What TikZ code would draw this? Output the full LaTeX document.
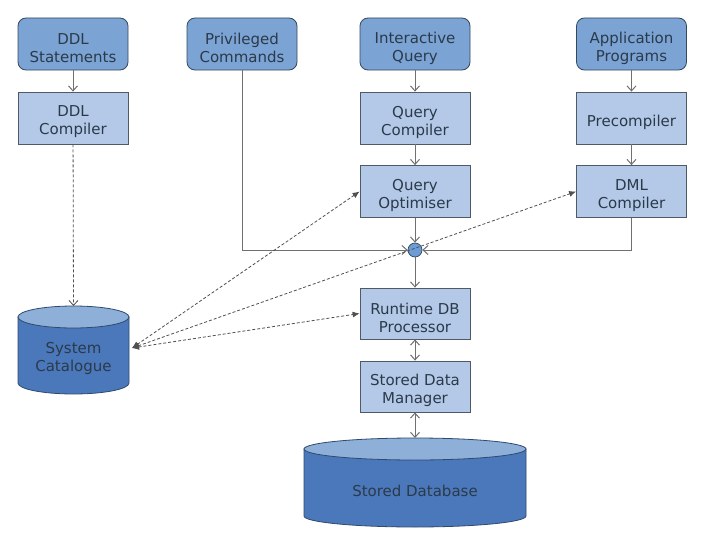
\documentclass[tikz,border=0pt]{standalone}
\usepackage{fontspec}
\setmainfont{DejaVu Sans}
\usetikzlibrary{arrows.meta}
\definecolor{topc}{HTML}{7BA3D4}
\definecolor{topb}{HTML}{34495E}
\definecolor{boxc}{HTML}{B3C9E7}
\definecolor{boxb}{HTML}{505A66}
\definecolor{txtc}{HTML}{2B3A4A}
\definecolor{linec}{HTML}{707070}
\definecolor{dashc}{HTML}{505050}
\definecolor{cylbody}{HTML}{4A78BB}
\definecolor{cyltop}{HTML}{8DAFD8}
\definecolor{cylb}{HTML}{2E4A6E}
\definecolor{hubc}{HTML}{6D9BD3}
\tikzset{
  lbl/.style={align=center, text=txtc, font=\fontsize{15}{18}\selectfont},
  boxtext/.style={label={[lbl, yshift=-4pt]center:#1}},
  src/.style={draw=topb, fill=topc, rounded corners=8pt, minimum width=110pt, minimum height=52pt, line width=0.8pt},
  proc/.style={draw=boxb, fill=boxc, minimum width=110pt, minimum height=52pt, line width=0.8pt},
  flow/.style={draw=linec, line width=1pt, -{Straight Barb[length=5pt,width=9pt]}},
  bflow/.style={draw=linec, line width=1pt, {Straight Barb[length=5pt,width=9pt]}-{Straight Barb[length=5pt,width=9pt]}},
  dflow/.style={draw=dashc, line width=0.8pt, dash pattern=on 3pt off 2pt, -{Straight Barb[length=5pt,width=9pt]}},
  link/.style={draw=dashc, line width=0.8pt, dash pattern=on 3pt off 2pt, {Latex[length=7pt,width=6pt]}-{Latex[length=7pt,width=6pt]}},
  cylarea/.style={inner sep=0pt, outer sep=0pt},
}
\begin{document}
\begin{tikzpicture}[x=1pt,y=-1pt]
\useasboundingbox (0,0) rectangle (701,543);
\fill[white] (0,0) rectangle (701,543);
% sources
\node[src, boxtext={DDL\\Statements}] (ddl)  at (73,44) {};
\node[src, boxtext={Privileged\\Commands}] (priv) at (242,44) {};
\node[src, boxtext={Interactive\\Query}] (iq) at (415,44) {};
\node[src, boxtext={Application\\Programs}] (app) at (631.5,44) {};
% processors
\node[proc, boxtext={DDL\\Compiler}] (ddlc) at (73,118) {};
\node[proc, boxtext={Query\\Compiler}] (qc) at (415,118) {};
\node[proc, boxtext={Precompiler}] (pre) at (631.5,118) {};
\node[proc, boxtext={Query\\Optimiser}] (qo) at (415,191.5) {};
\node[proc, boxtext={DML\\Compiler}] (dml) at (631.5,191.5) {};
\node[circle, draw=topb, fill=hubc, minimum size=14pt, inner sep=0pt, line width=0.7pt] (hub) at (415,250) {};
\node[proc, minimum height=51pt, boxtext={Runtime DB\\Processor}] (rdb) at (415,313.5) {};
\node[proc, minimum height=51pt, boxtext={Stored Data\\Manager}] (sdm) at (415,386.5) {};
% cylinders
\draw[draw=cylb, fill=cylbody, line width=0.8pt] (18,317) -- (18,383) arc[start angle=180, end angle=0, x radius=55.5, y radius=11] -- (129,317) -- cycle;
\draw[draw=cylb, fill=cyltop, line width=0.8pt] (73.5,317) ellipse[x radius=55.5, y radius=11];
\node[cylarea, minimum width=111pt, minimum height=88pt] (cat) at (73.5,350) {};
\node[lbl] (catt) at (73.5,358) {System\\Catalogue};
\draw[draw=cylb, fill=cylbody, line width=0.8pt] (304,449) -- (304,516) arc[start angle=180, end angle=0, x radius=111, y radius=11] -- (526,449) -- cycle;
\draw[draw=cylb, fill=cyltop, line width=0.8pt] (415,449) ellipse[x radius=111, y radius=11];
\node[cylarea, minimum width=222pt, minimum height=89pt] (sdb) at (415,482.5) {};
\node[lbl] (sdbt) at (415,491) {Stored Database};
% flows
\draw[flow] (ddl) -- (ddlc);
\draw[flow] (iq) -- (qc);
\draw[flow] (qc) -- (qo);
\draw[flow] (app) -- (pre);
\draw[flow] (pre) -- (dml);
\draw[flow] (qo) -- (hub);
\draw[flow] (priv.south) |- (hub.west);
\draw[flow] (dml.south) |- (hub.east);
\draw[flow] (hub) -- (rdb);
\draw[bflow] (rdb) -- (sdm);
\draw[bflow] (sdm) -- (sdb.north);
\draw[dflow] (ddlc) -- (cat.north);
% catalogue links
\coordinate (cp) at (132,348);
\draw[link] (cp) -- (qo.west);
\draw[link] (cp) -- (dml.west);
\draw[link] (cp) -- (rdb.west);
\end{tikzpicture}
\end{document}
